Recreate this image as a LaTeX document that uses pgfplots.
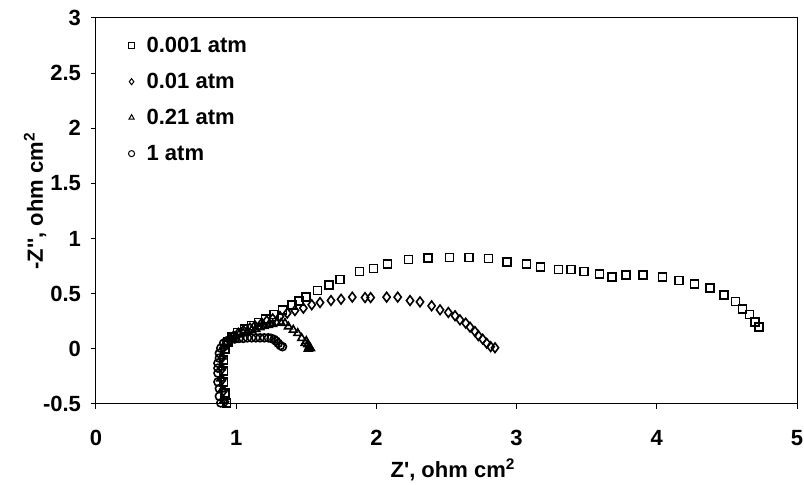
\documentclass[border=0pt]{standalone}
\usepackage{fontspec}
\setmainfont{Liberation Sans}
\usepackage{pgfplots}
\pgfplotsset{compat=1.18}
\newcommand{\bigf}{\fontsize{16.5}{19}\selectfont\bfseries}
\begin{document}
\begin{tikzpicture}
\begin{axis}[
 at={(0,0)}, anchor=south west,
 scale only axis, width=525.75pt, height=289.5pt,
 xmin=0, xmax=5, ymin=-0.5, ymax=3,
 xtick={0,1,2,3,4,5}, ytick={-0.5,0,0.5,1,1.5,2,2.5,3},
 xticklabels={0,1,2,3,4,5}, yticklabels={-0.5,0,0.5,1,1.5,2,2.5,3},
 tick align=outside, xtick pos=left, ytick pos=left, major tick length=3.75pt,
 tick style={black, line width=0.75pt},
 axis line style={black, line width=0.75pt},
 ticklabel style={font=\bigf},
 xticklabel style={anchor=center, yshift=-21.5pt},
 yticklabel style={anchor=east, xshift=-4pt},
 every axis x label/.style={at={(axis description cs:0.509,-0.17)}, anchor=center, font=\bigf},
 every axis y label/.style={at={(axis description cs:-0.087,0.526)}, anchor=center, rotate=90, font=\bigf},
 xlabel={Z\textquotesingle, ohm cm\textsuperscript{2}},
 ylabel={-Z\textquotesingle\textquotesingle, ohm cm\textsuperscript{2}},
 clip=false,
 legend style={at={(axis description cs:0.046,0.955)}, anchor=north west, draw=none, fill=none, font=\bigf, row sep=12pt, column sep=8pt, inner sep=0pt, nodes={inner sep=1pt, anchor=west}},
 legend cell align=left,
 legend image code/.code={\draw[#1, mark size=2.3pt, line width=0.75pt] plot coordinates {(0.15cm,0cm)};},
]
\addplot[only marks, mark=square, mark size=3pt, line width=1.2pt, black] coordinates {
(0.93,-0.49) (0.92,-0.40) (0.91,-0.30) (0.91,-0.20) (0.91,-0.10) (0.92,0.0) (0.94,0.06) (0.97,0.11) (1.01,0.15) (1.06,0.18) (1.11,0.21) (1.16,0.24) (1.21,0.27) (1.27,0.31) (1.33,0.35) (1.40,0.40) (1.45,0.435) (1.50,0.47) (1.58,0.53) (1.66,0.58) (1.74,0.63) (1.88,0.70) (1.98,0.73) (2.08,0.77) (2.23,0.81) (2.37,0.825) (2.52,0.83) (2.66,0.83) (2.80,0.82) (2.93,0.79) (3.07,0.77) (3.17,0.74) (3.30,0.72) (3.39,0.72) (3.48,0.70) (3.59,0.68) (3.68,0.65) (3.78,0.67) (3.90,0.67) (4.04,0.65) (4.16,0.62) (4.27,0.59) (4.38,0.55) (4.48,0.49) (4.56,0.43) (4.61,0.36) (4.66,0.31) (4.70,0.245) (4.73,0.20)
};
\addlegendentry{0.001 atm}
\addplot[only marks, mark=diamond, mark size=3.6pt, line width=1.2pt, black] coordinates {
(0.92,-0.48) (0.91,-0.38) (0.90,-0.28) (0.90,-0.18) (0.90,-0.08) (0.91,0.01) (0.927,0.036) (0.956,0.082) (0.979,0.112) (1.015,0.142) (1.051,0.166) (1.098,0.188) (1.134,0.209) (1.182,0.233) (1.218,0.254) (1.260,0.272) (1.312,0.293) (1.364,0.324) (1.419,0.347) (1.479,0.369) (1.539,0.40) (1.598,0.42) (1.676,0.438) (1.748,0.45) (1.828,0.469) (1.919,0.465) (1.959,0.465) (2.073,0.469) (2.152,0.469) (2.240,0.438) (2.311,0.426) (2.394,0.39) (2.454,0.354) (2.513,0.33) (2.561,0.30) (2.596,0.263) (2.637,0.233) (2.668,0.197) (2.703,0.157) (2.727,0.12) (2.758,0.088) (2.787,0.05) (2.815,0.02) (2.846,0.01)
};
\addlegendentry{0.01 atm}
\addplot[only marks, mark=triangle, mark size=3.3pt, line width=1.2pt, black] coordinates {
(0.91,-0.47) (0.90,-0.37) (0.89,-0.27) (0.89,-0.17) (0.90,-0.07) (0.91,0.02) (0.93,0.06) (0.96,0.09) (0.99,0.11) (1.02,0.13) (1.05,0.145) (1.08,0.16) (1.11,0.17) (1.14,0.18) (1.17,0.195) (1.20,0.205) (1.23,0.215) (1.26,0.225) (1.29,0.235) (1.32,0.235) (1.348,0.233) (1.372,0.202) (1.407,0.172) (1.439,0.142) (1.467,0.097) (1.491,0.052) (1.50,0.07) (1.51,0.04) (1.514,0.0) (1.52,0.02) (1.525,0.01) (1.53,0.005)
};
\addlegendentry{0.21 atm}
\addplot[only marks, mark=o, mark size=3pt, line width=1.2pt, black] coordinates {
(0.89,-0.49) (0.88,-0.43) (0.88,-0.36) (0.87,-0.30) (0.87,-0.22) (0.87,-0.175) (0.87,-0.13) (0.88,-0.084) (0.88,-0.04) (0.89,0.006) (0.91,0.05) (0.93,0.07) (0.96,0.085) (0.99,0.09) (1.02,0.095) (1.05,0.095) (1.08,0.10) (1.11,0.10) (1.14,0.10) (1.17,0.10) (1.20,0.10) (1.23,0.10) (1.25,0.095) (1.27,0.085) (1.285,0.07) (1.30,0.05) (1.315,0.03) (1.33,0.02)
};
\addlegendentry{1 atm}
\end{axis}
\pgfresetboundingbox
\path (-72pt,-60.75pt) rectangle (531pt,303pt);
\end{tikzpicture}
\end{document}
